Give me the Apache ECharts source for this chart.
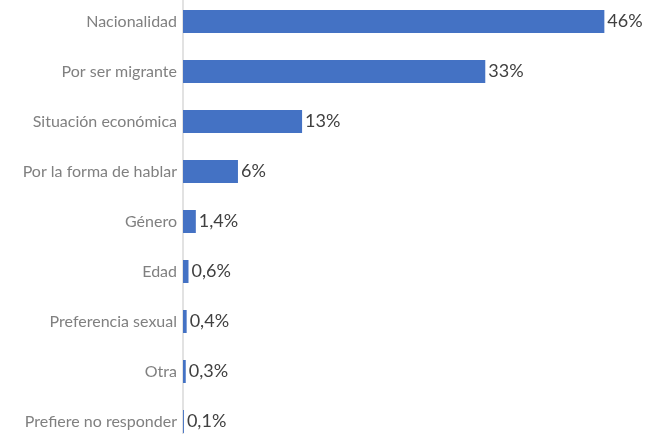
<!DOCTYPE html>
<html><head><meta charset="utf-8">
<script src="https://cdn.jsdelivr.net/npm/echarts@6/dist/echarts.min.js"></script>
<style>html,body{margin:0;padding:0;background:#fff;overflow:hidden}#c{width:659px;height:460px;margin-top:-13px}</style>
</head><body><div id="c"></div>
<script>
const categories = ["Nacionalidad","Por ser migrante","Situación económica","Por la forma de hablar","Género","Edad","Preferencia sexual","Otra","Prefiere no responder"];
const values = [46, 33, 13, 6, 1.4, 0.6, 0.4, 0.3, 0.1];
const labels = ["46%","33%","13%","6%","1,4%","0,6%","0,4%","0,3%","0,1%"];

const chart = echarts.init(document.getElementById('c'), null, {renderer:'canvas'});
chart.setOption({
  animation:false,
  grid:{left:183, top:9.5, right:18, height:450, containLabel:false},
  xAxis:{type:'value', min:0, max:50, show:false},
  yAxis:{type:'category', inverse:true, data:categories,
    axisLine:{show:true, lineStyle:{color:'#d9d9d9', width:1.5}},
    axisTick:{show:false},
    axisLabel:{margin:6, color:'#808080', fontSize:16, fontFamily:'Lato'}},
  series:[{type:'bar', data:values, barWidth:23,
    itemStyle:{color:'#4472C4'},
    label:{show:true, position:'right', distance:3, color:'#404040', fontSize:18, fontFamily:'Lato',
      formatter:p=>labels[p.dataIndex]}}]
});
</script></body></html>
